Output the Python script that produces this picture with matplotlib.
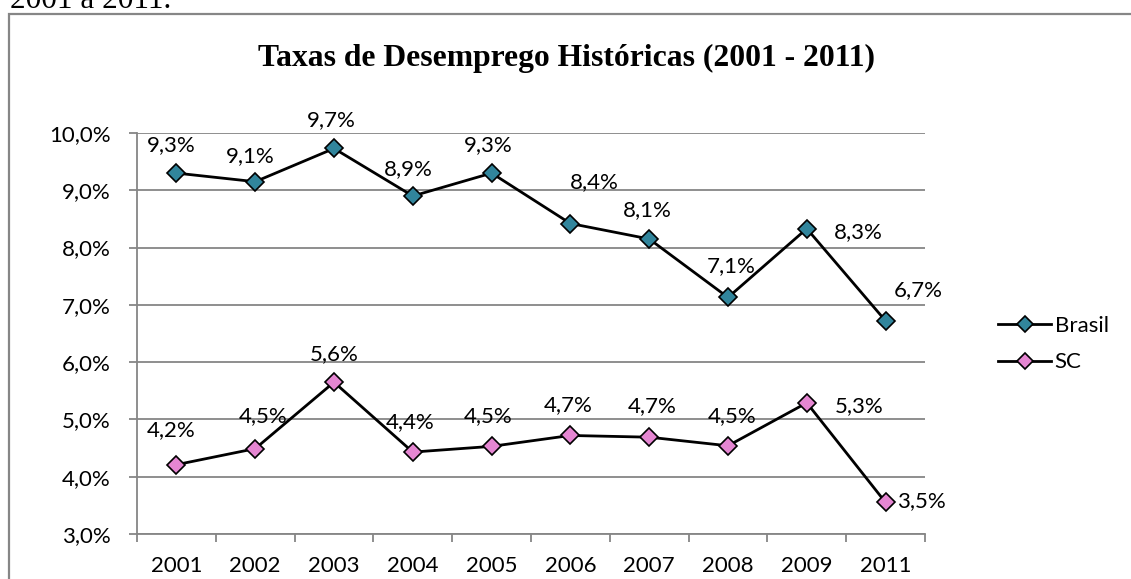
import matplotlib
matplotlib.use("Agg")
import matplotlib.pyplot as plt
from matplotlib.patches import Rectangle
from matplotlib.ticker import FixedLocator, FuncFormatter
from matplotlib.lines import Line2D

# ---- data ----
years = ["2001", "2002", "2003", "2004", "2005", "2006", "2007", "2008", "2009", "2011"]
brasil = [9.30, 9.15, 9.73, 8.90, 9.30, 8.42, 8.15, 7.13, 8.33, 6.72]
sc = [4.21, 4.49, 5.65, 4.43, 4.53, 4.72, 4.69, 4.54, 5.29, 3.55]
brasil_labels = ["9,3%", "9,1%", "9,7%", "8,9%", "9,3%", "8,4%", "8,1%", "7,1%", "8,3%", "6,7%"]
sc_labels = ["4,2%", "4,5%", "5,6%", "4,4%", "4,5%", "4,7%", "4,7%", "4,5%", "5,3%", "3,5%"]
y_ticks = [3, 4, 5, 6, 7, 8, 9, 10]
title = "Taxas de Desemprego Históricas (2001 - 2011)"

# label offsets in pixels (dx, dy up-positive)
brasil_off = [(-5, 28), (-5, 26), (-3, 28), (-4, 27), (-3, 28), (24, 41), (-2, 29), (3, 31), (52, -3), (33, 31)]
sc_off = [(-5, 35), (8, 33), (0, 28), (-3, 30), (-3, 30), (-2, 30), (3, 31), (4, 30), (52, -3), (36, 1)]

W, H = 1131, 579
fig = plt.figure(figsize=(W / 100, H / 100), dpi=100)
fig.patch.set_facecolor("white")

GRAY = "#868686"
FONT = "Lato"
FS = 16

ax = fig.add_axes([137 / W, 45 / H, (925 - 137) / W, (534 - 133) / H])
x = list(range(len(years)))

ax.plot(x, brasil, color="black", lw=2.0, marker="D", ms=9.5,
        markerfacecolor="#31859c", markeredgecolor="black", markeredgewidth=1.2,
        zorder=3, clip_on=False, label="Brasil")
ax.plot(x, sc, color="black", lw=2.0, marker="D", ms=9.5,
        markerfacecolor="#e586d2", markeredgecolor="black", markeredgewidth=1.2,
        zorder=3, clip_on=False, label="SC")

for xi, v, lab, off in zip(x, brasil, brasil_labels, brasil_off):
    ax.annotate(lab, (xi, v), xytext=off, textcoords="offset pixels",
                ha="center", va="center", fontsize=FS, family=FONT, color="black")
for xi, v, lab, off in zip(x, sc, sc_labels, sc_off):
    ax.annotate(lab, (xi, v), xytext=off, textcoords="offset pixels",
                ha="center", va="center", fontsize=FS, family=FONT, color="black")

ax.set_xlim(-0.5, len(years) - 0.5)
ax.set_ylim(3, 10)
ax.yaxis.set_major_locator(FixedLocator(y_ticks))
ax.yaxis.set_major_formatter(FuncFormatter(lambda v, p: f"{v:.1f}".replace(".", ",") + "%"))
ax.set_xticks(x)
ax.set_xticklabels(years)
ax.set_xticks([i - 0.5 for i in range(len(years) + 1)], minor=True)

ax.tick_params(axis="x", which="major", length=0, pad=16, labelsize=FS)
ax.tick_params(axis="x", which="minor", length=6, width=1.3, color=GRAY, direction="out")
ax.tick_params(axis="y", which="major", length=6, width=1.3, color=GRAY, pad=13, labelsize=FS)
for lab in ax.get_xticklabels() + ax.get_yticklabels():
    lab.set_family(FONT)

ax.grid(axis="y", color=GRAY, lw=1.3)
ax.set_axisbelow(True)
for s in ["top", "right"]:
    ax.spines[s].set_visible(False)
for s in ["left", "bottom"]:
    ax.spines[s].set_color(GRAY)
    ax.spines[s].set_linewidth(1.3)

# title
fig.text(567 / W, 1 - 58 / H, title, ha="center", va="center",
         fontsize=22.8, fontweight="bold", family="Liberation Serif")

# legend
handles = [Line2D([], [], color="black", lw=2.0, marker="D", ms=8.5,
                  markerfacecolor="#31859c", markeredgecolor="black", markeredgewidth=1.2),
           Line2D([], [], color="black", lw=2.0, marker="D", ms=8.5,
                  markerfacecolor="#e586d2", markeredgecolor="black", markeredgewidth=1.2)]
fig.legend(handles, ["Brasil", "SC"], loc="center left",
           bbox_to_anchor=(998 / W, 1 - 344 / H), frameon=False,
           prop={"family": FONT, "size": FS}, handlelength=2.4, handletextpad=0.15,
           labelspacing=0.75, borderaxespad=0, borderpad=0)

# chart border (cropped at right and bottom)
fig.patches.append(Rectangle((9 / W, -0.1), 1.2, 1 - 14 / H + 0.1,
                             transform=fig.transFigure, fill=False,
                             edgecolor=GRAY, lw=1.6))

# cropped document text at top
fig.text(10 / W, 1 - 8 / H, "2001 a 2011.", ha="left", va="baseline",
         fontsize=22.5, family="Liberation Serif")

fig.savefig("out.png", dpi=100)
